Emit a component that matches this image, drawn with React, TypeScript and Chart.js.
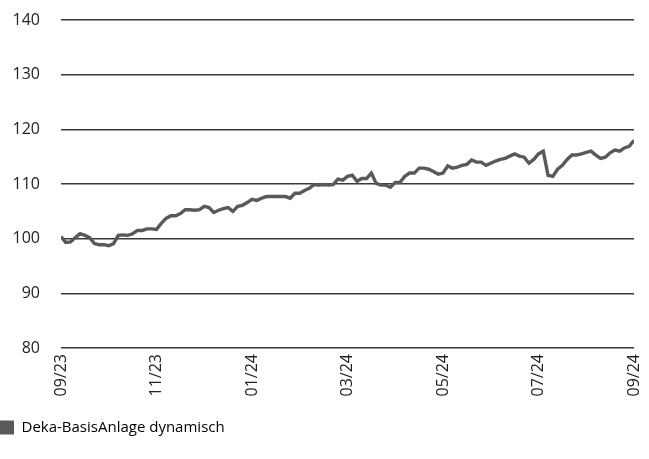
import React, { useEffect, useRef } from "react";
import { Chart, registerables } from "chart.js";

Chart.register(...registerables);

const seriesName = "Deka-BasisAnlage dynamisch";
const tickLabels = ["09/23", "11/23", "01/24", "03/24", "05/24", "07/24", "09/24"];
const yTicks = [80, 90, 100, 110, 120, 130, 140];
// index values, 10 observations per month from 09/23 to 09/24
const values = [
  100.4, 99.3, 99.4, 100.2, 100.9, 100.6, 100.2, 99.1, 98.9, 98.9,
  98.7, 99.1, 100.6, 100.7, 100.6, 100.9, 101.5, 101.5, 101.8, 101.8,
  101.7, 102.8, 103.7, 104.2, 104.2, 104.6, 105.3, 105.3, 105.2, 105.3,
  105.9, 105.7, 104.8, 105.2, 105.5, 105.7, 105.0, 105.9, 106.1, 106.6,
  107.2, 107.0, 107.4, 107.7, 107.7, 107.7, 107.7, 107.7, 107.4, 108.3,
  108.3, 108.8, 109.2, 109.9, 109.8, 109.9, 109.8, 109.9, 110.9, 110.7,
  111.4, 111.6, 110.5, 111.0, 111.0, 112.0, 110.1, 109.8, 109.8, 109.4,
  110.3, 110.3, 111.4, 112.0, 112.0, 112.9, 112.9, 112.7, 112.3, 111.8,
  112.0, 113.3, 112.9, 113.1, 113.4, 113.6, 114.4, 114.0, 114.0, 113.4,
  113.8, 114.2, 114.5, 114.7, 115.1, 115.5, 115.1, 114.9, 113.8, 114.5,
  115.5, 116.0, 111.6, 111.4, 112.7, 113.4, 114.5, 115.3, 115.3, 115.5,
  115.8, 116.0, 115.3, 114.7, 114.9, 115.7, 116.2, 116.0, 116.6, 116.9,
  118.0,
];
const monthsSpan = 12;

export default function App() {
  const ref = useRef<HTMLCanvasElement>(null);
  useEffect(() => {
    document.body.style.margin = "0";
    const n = values.length - 1;
    const data = values.map((v, i) => ({ x: (i * monthsSpan) / n, y: v }));
    const font = { family: "'Open Sans', sans-serif", size: 16 };
    const chart = new Chart(ref.current!, {
      type: "line",
      data: {
        datasets: [
          {
            label: seriesName,
            data,
            borderColor: "#595959",
            backgroundColor: "#595959",
            borderWidth: 3.4,
            pointRadius: 0,
            tension: 0,
          },
        ],
      },
      options: {
        animation: false,
        responsive: false,
        maintainAspectRatio: false,
        layout: { padding: { top: 20, right: 15, bottom: 14, left: 0 } },
        scales: {
          x: {
            type: "linear",
            min: 0,
            max: monthsSpan,
            afterBuildTicks: (s: any) => {
              s.ticks = tickLabels.map((_, i) => ({ value: i * 2 }));
            },
            afterFit: (s: any) => {
              s.height = 72;
              s.paddingLeft = 0;
              s.paddingRight = 0;
            },
            ticks: {
              autoSkip: false,
              maxRotation: 90,
              minRotation: 90,
              padding: 6,
              color: "#222",
              font,
              callback: (v: any) => tickLabels[Math.round(Number(v) / 2)] ?? "",
            },
            grid: { display: false, drawTicks: false },
            border: { display: false },
          },
          y: {
            min: 80,
            max: 140,
            afterBuildTicks: (s: any) => {
              s.ticks = yTicks.map((v) => ({ value: v }));
            },
            afterFit: (s: any) => {
              s.width = 61;
              s.paddingTop = 0;
              s.paddingBottom = 0;
            },
            ticks: { padding: 21, color: "#222", font },
            grid: { color: "#3a3a3a", lineWidth: 1.5, drawTicks: false },
            border: { display: false },
          },
        },
        plugins: {
          tooltip: { enabled: false },
          legend: {
            display: true,
            position: "bottom",
            align: "start",
            labels: {
              boxWidth: 14,
              boxHeight: 14,
              padding: 0,
              color: "#222",
              font: { family: "'Open Sans', sans-serif", size: 15 },
              generateLabels: () => [
                {
                  text: seriesName,
                  fillStyle: "#595959",
                  strokeStyle: "#595959",
                  lineWidth: 0,
                  datasetIndex: 0,
                },
              ],
            },
          },
        },
      },
    });
    return () => chart.destroy();
  }, []);
  return <canvas ref={ref} width={649} height={459} style={{ display: "block" }} />;
}
